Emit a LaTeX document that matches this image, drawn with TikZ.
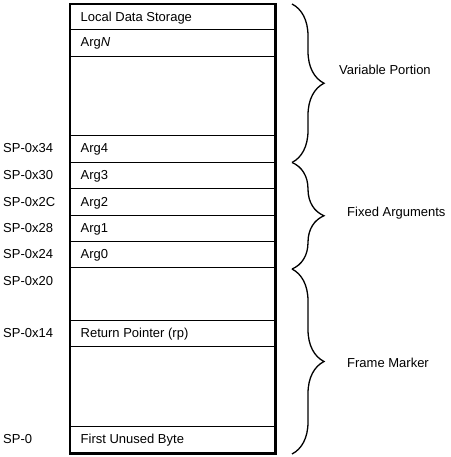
\documentclass[tikz,border=0pt]{standalone}
\usepackage{fontspec}
\setmainfont{Liberation Sans}
\usetikzlibrary{decorations.pathreplacing}
\begin{document}
\begin{tikzpicture}[x=1pt,y=-1pt, font=\fontsize{13}{15}\selectfont,
  cell/.style={draw, line width=1.2pt, minimum width=204pt, inner sep=0pt, anchor=north west},
  txt/.style={anchor=base west, inner sep=0pt},
  brc/.style={decorate, decoration={brace, amplitude=32pt}, line width=1.3pt}]
\useasboundingbox (0,0) rectangle (450,457);
% cells
\node[cell, minimum height=25pt] (c1) at (70,4) {};
\node[cell, minimum height=27pt] (c2) at (70,29) {};
\node[cell, minimum height=79pt] (c3) at (70,56) {};
\node[cell, minimum height=27pt] (c4) at (70,135) {};
\node[cell, minimum height=26pt] (c5) at (70,162) {};
\node[cell, minimum height=27pt] (c6) at (70,188) {};
\node[cell, minimum height=26pt] (c7) at (70,215) {};
\node[cell, minimum height=26pt] (c8) at (70,241) {};
\node[cell, minimum height=53pt] (c9) at (70,267) {};
\node[cell, minimum height=26pt] (c10) at (70,320) {};
\node[cell, minimum height=80pt] (c11) at (70,346) {};
\node[cell, minimum height=26pt] (c12) at (70,426) {};
\draw[line width=2.8pt] (c1.north west) rectangle (c12.south east);
% cell texts
\node[txt] (t1) at (80.5,21.5) {Local Data Storage};
\node[txt] (t2) at (80.5,47) {Arg\textit{N}};
\node[txt] (t4) at (80.5,153) {Arg4};
\node[txt] (t5) at (80.5,179.5) {Arg3};
\node[txt] (t6) at (80.5,206) {Arg2};
\node[txt] (t7) at (80.5,232.5) {Arg1};
\node[txt] (t8) at (80.5,258.5) {Arg0};
\node[txt] (t10) at (80.5,337.5) {Return Pointer (rp)};
\node[txt] (t12) at (80.5,443.5) {First Unused Byte};
% offsets
\node[txt] (l4) at (3,153) {SP-0x34};
\node[txt] (l5) at (3,179.5) {SP-0x30};
\node[txt] (l6) at (3,206) {SP-0x2C};
\node[txt] (l7) at (3,232.5) {SP-0x28};
\node[txt] (l8) at (3,258.5) {SP-0x24};
\node[txt] (l9) at (3,285) {SP-0x20};
\node[txt] (l10) at (3,337.5) {SP-0x14};
\node[txt] (l12) at (3,443.5) {SP-0};
% braces
\coordinate (b0) at (292,4);
\coordinate (b1) at (292,162.5);
\coordinate (b2) at (292,269);
\coordinate (b3) at (292,454);
\draw[brc] (b0) -- (b1);
\draw[brc] (b1) -- (b2);
\draw[brc] (b2) -- (b3);
\node[txt] (vp) at (339,74.5) {Variable Portion};
\node[txt] (fa) at (347,216) {Fixed Arguments};
\node[txt] (fm) at (347,367) {Frame Marker};
\end{tikzpicture}
\end{document}
